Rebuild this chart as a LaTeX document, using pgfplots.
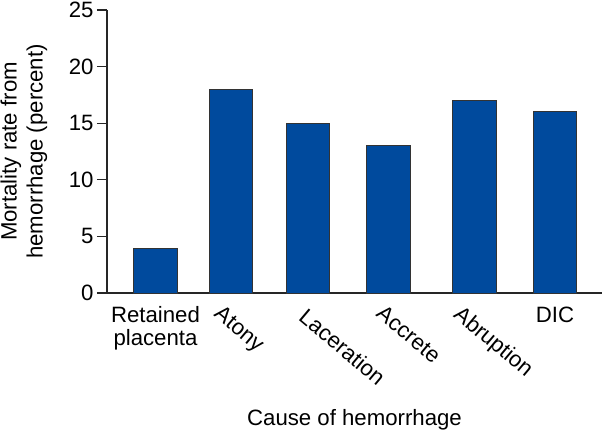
\documentclass[border=0pt]{standalone}
\usepackage{pgfplots}
\pgfplotsset{compat=1.18}
\usepackage{fontspec}
\setmainfont{Liberation Sans}
\definecolor{barblue}{RGB}{0,74,157}
\newcommand{\lblfont}{\fontsize{22.2bp}{26bp}\selectfont}
\begin{document}
\begin{tikzpicture}[font=\lblfont]
\path[use as bounding box] (-107bp,-140bp) rectangle (497bp,293bp);
\begin{axis}[
  at={(0,0)}, anchor=south west,
  scale only axis,
  width=495bp, height=283bp,
  xmin=0, xmax=495, ymin=0, ymax=25,
  axis lines=left,
  axis line style={-, line width=1.3bp, black!85},
  xtick=\empty,
  ytick={0,5,10,15,20,25},
  tick align=outside,
  major tick length=10bp,
  tick style={line width=1.3bp, black!85},
  /pgf/number format/assume math mode=true,
  yticklabel style={font=\lblfont},
  ylabel={Mortality rate from\\hemorrhage (percent)},
  ylabel style={at={(axis description cs:-0.1677,0.5)}, anchor=center, align=center, font=\lblfont},
  clip=false,
  ybar, bar width=43.5,
]
\addplot[fill=barblue, draw=black!80, line width=0.8bp] coordinates {
  (48.5,3.9) (124,18) (201,15) (281.5,13) (367.5,17) (448,16)
};
\node[anchor=north, align=center, inner sep=0pt, font=\fontsize{22.2bp}{23bp}\selectfont] at (axis cs:48.5,-1.15) {Retained\\placenta};
\node[anchor=north west, rotate=-40, inner sep=0pt] at (axis cs:116,-0.97) {Atony};
\node[anchor=north west, rotate=-40, inner sep=0pt] at (axis cs:201,-1.24) {Laceration};
\node[anchor=north west, rotate=-40, inner sep=0pt] at (axis cs:278,-0.97) {Accrete};
\node[anchor=north west, rotate=-40, inner sep=0pt] at (axis cs:356,-0.97) {Abruption};
\node[anchor=north, inner sep=0pt] at (axis cs:448,-1.24) {DIC};
\node[anchor=north, inner sep=0pt] at (axis cs:247.5,-10.3) {Cause of hemorrhage};
\end{axis}
\end{tikzpicture}
\end{document}
